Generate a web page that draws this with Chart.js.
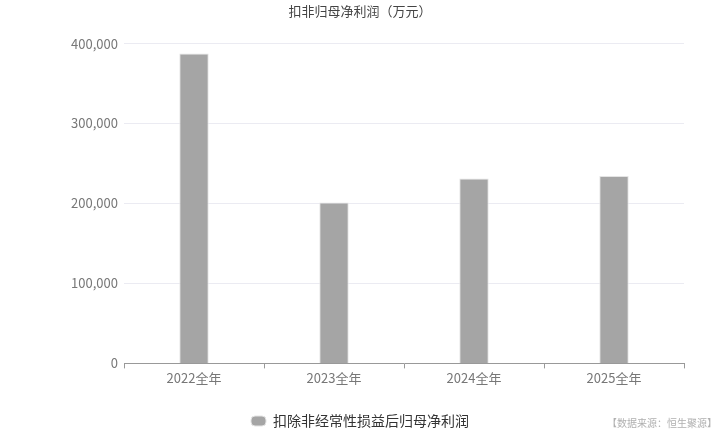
<!DOCTYPE html>
<html><head><meta charset="utf-8">
<script src="https://cdn.jsdelivr.net/npm/chart.js@4"></script>
<style>html,body{margin:0;padding:0;background:#fff;}#wrap{position:relative;width:720px;height:432px;}
#src{position:absolute;right:3px;top:415px;font:10px "Noto Sans CJK SC";color:#b0b0b0;}</style>
</head><body><div id="wrap"><canvas id="c" width="720" height="432"></canvas><div id="src">【数据来源：恒生聚源】</div></div>
<script>
const categories = ['2022全年','2023全年','2024全年','2025全年'];
const seriesName = '扣除非经常性损益后归母净利润';
const values = [387500, 201300, 231300, 234300];
const titleText = '扣非归母净利润（万元）';
const font = '"Noto Sans CJK SC", "Noto Sans", sans-serif';
new Chart(document.getElementById('c'), {
  type: 'bar',
  data: { labels: categories, datasets: [{ label: seriesName, data: values, backgroundColor: '#a5a5a5', borderColor: '#e4e4e4', borderWidth: 1, barPercentage: 1, categoryPercentage: 0.21 }] },
  options: {
    responsive: false, animation: false,
    layout: { padding: { left: 10, right: 10, top: 0, bottom: -6 } },
    plugins: {
      title: { display: true, text: titleText, color: '#444', font: { family: font, size: 13, weight: 'normal' }, padding: { top: 3, bottom: 25 } },
      legend: { position: 'bottom', labels: { color: '#333', font: { family: font, size: 14 }, boxWidth: 15, boxHeight: 10, useBorderRadius: true, borderRadius: 4, padding: 4 } },
      tooltip: { enabled: false }
    },
    scales: {
      x: { afterFit: s => { s.height += 22; }, grid: { display: true, drawOnChartArea: false, drawTicks: true, tickLength: 5, color: '#999', offset: true }, border: { display: true, color: '#999' }, ticks: { color: '#777', font: { family: font, size: 13 }, padding: 2 } },
      y: { afterFit: s => { s.width = 114; }, min: 0, max: 400000, ticks: { stepSize: 100000, color: '#777', font: { family: font, size: 13 }, padding: 6, callback: v => v.toLocaleString('en-US') }, grid: { color: '#ebebf2', drawTicks: false }, border: { display: false } },
      yR: { position: 'right', afterFit: s => { s.width = 26; }, min: 0, max: 400000, ticks: { display: false }, grid: { display: false }, border: { display: false } }
    }
  }
});
</script></body></html>
